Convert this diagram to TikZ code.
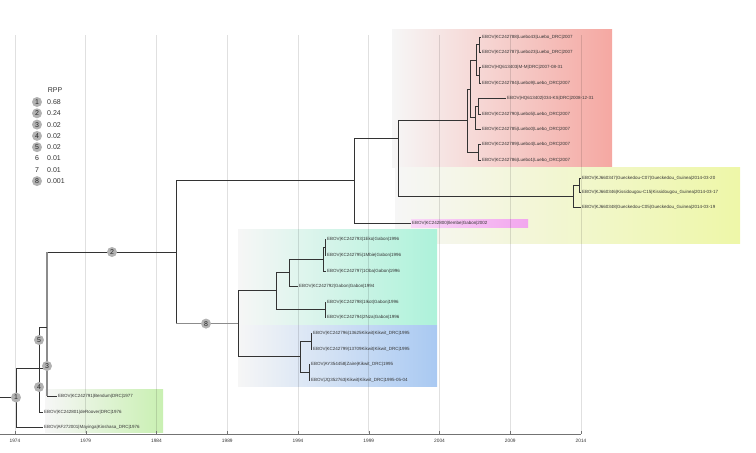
\documentclass[tikz,border=0pt]{standalone}
\usepackage{fontspec}
\setmainfont{Liberation Sans}
\newcommand\leaffont{\fontsize{4.5}{5}\selectfont}
\newcommand\rppfont{\fontsize{7}{8}\selectfont}
\newcommand\yearfont{\fontsize{4.8}{5}\selectfont}
\definecolor{redclade}{HTML}{F5A8A2}
\definecolor{yellowclade}{HTML}{EEF7A8}
\definecolor{pinkclade}{HTML}{F2A6EE}
\definecolor{cyanclade}{HTML}{ADF2DA}
\definecolor{blueclade}{HTML}{A9C9F2}
\definecolor{greenclade}{HTML}{C9F0B2}
\definecolor{fadegray}{HTML}{F6F6F6}
\tikzset{
  branch/.style = {draw = black!80, line width = 0.8pt},
  rootbranch/.style = {draw = black!45, line width = 1.4pt},
  leaf/.style = {anchor = west, inner sep = 0.8pt, font = \leaffont, text = black!80},
  rpp/.style = {circle, fill = black!30, inner sep = 0pt, minimum size = 10pt, font = \rppfont, text = black!85},
  rppval/.style = {anchor = west, inner sep = 0pt, font = \rppfont, text = black!80},
  gridline/.style = {draw = black, opacity = 0.12, line width = 0.7pt},
  year/.style = {anchor = north, inner sep = 0pt, font = \yearfont, text = black!80}
}
\begin{document}
\begin{tikzpicture}[x = 1pt, y = -1pt]
\useasboundingbox (0,0) rectangle (756,453);
% clade boxes
\fill[left color = fadegray, right color = redclade] (392,29) rectangle (612,167);
\fill[left color = fadegray, right color = yellowclade] (395,167) rectangle (740,243);
\fill[left color = pinkclade!45, right color = pinkclade] (411,219) rectangle (528,227);
\fill[left color = fadegray, right color = cyanclade] (238,229) rectangle (437,324);
\fill[left color = fadegray, right color = blueclade] (238,325) rectangle (437,386);
\fill[left color = fadegray, right color = greenclade] (45,389) rectangle (163,432);
% time grid
\draw[gridline] (15,35) -- (15,433);
\draw[gridline] (85.8,35) -- (85.8,433);
\draw[gridline] (156.5,35) -- (156.5,433);
\draw[gridline] (227.3,35) -- (227.3,433);
\draw[gridline] (298,35) -- (298,433);
\draw[gridline] (368.8,35) -- (368.8,433);
\draw[gridline] (439.5,35) -- (439.5,433);
\draw[gridline] (510.3,35) -- (510.3,433);
\draw[gridline] (581,35) -- (581,433);
% axis
\draw[draw = black!55, line width = 0.6pt] (0,434) -- (581,434);
\draw[draw = black!55, line width = 0.5pt] (15,431) -- (15,434) (85.8,431) -- (85.8,434) (156.5,431) -- (156.5,434) (227.3,431) -- (227.3,434) (298,431) -- (298,434) (368.8,431) -- (368.8,434) (439.5,431) -- (439.5,434) (510.3,431) -- (510.3,434) (581,431) -- (581,434);
\node[year] (y1974) at (15,439) {1974};
\node[year] (y1979) at (85.8,439) {1979};
\node[year] (y1984) at (156.5,439) {1984};
\node[year] (y1989) at (227.3,439) {1989};
\node[year] (y1994) at (298,439) {1994};
\node[year] (y1999) at (368.8,439) {1999};
\node[year] (y2004) at (439.5,439) {2004};
\node[year] (y2009) at (510.3,439) {2009};
\node[year] (y2014) at (581,439) {2014};
% leaves
\node[leaf] (luebo43) at (481,37) {EBOV|KC242788|Luebo43|Luebo\_DRC|2007};
\node[leaf] (luebo23) at (481,52.4) {EBOV|KC242787|Luebo23|Luebo\_DRC|2007};
\node[leaf] (mm) at (481,67.8) {EBOV|HQ613403|M-M|DRC|2007-08-31};
\node[leaf] (luebo9) at (481,83.1) {EBOV|KC242784|Luebo9|Luebo\_DRC|2007};
\node[leaf] (ks) at (506,98.5) {EBOV|HQ613402|034-KS|DRC|2008-12-31};
\node[leaf] (luebo5) at (481,113.9) {EBOV|KC242790|Luebo5|Luebo\_DRC|2007};
\node[leaf] (luebo0) at (481,129.3) {EBOV|KC242785|Luebo0|Luebo\_DRC|2007};
\node[leaf] (luebo4) at (481,144.6) {EBOV|KC242789|Luebo4|Luebo\_DRC|2007};
\node[leaf] (luebo1) at (481,160) {EBOV|KC242786|Luebo1|Luebo\_DRC|2007};
\node[leaf] (gueckC07) at (581,178) {EBOV|KJ660347|Gueckedou-C07|Gueckedou\_Guinea|2014-03-20};
\node[leaf] (kissC15) at (581,192.5) {EBOV|KJ660346|Kissidougou-C15|Kissidougou\_Guinea|2014-03-17};
\node[leaf] (gueckC05) at (581,207) {EBOV|KJ660348|Gueckedou-C05|Gueckedou\_Guinea|2014-03-19};
\node[leaf] (ilembe) at (411,223) {EBOV|KC242800|Ilembe|Gabon|2002};
\node[leaf] (eko) at (326,239) {EBOV|KC242793|1Eko|Gabon|1996};
\node[leaf] (mbie) at (326,255) {EBOV|KC242795|1Mbie|Gabon|1996};
\node[leaf] (oba) at (326,271) {EBOV|KC242797|1Oba|Gabon|1996};
\node[leaf] (gabon) at (298,286) {EBOV|KC242792|Gabon|Gabon|1994};
\node[leaf] (ikot) at (326,302) {EBOV|KC242798|1Ikot|Gabon|1996};
\node[leaf] (nza) at (326,317) {EBOV|KC242794|2Nza|Gabon|1996};
\node[leaf] (kik13625) at (312,333) {EBOV|KC242796|13625Kikwit|Kikwit\_DRC|1995};
\node[leaf] (kik13709) at (312,349) {EBOV|KC242799|13709Kikwit|Kikwit\_DRC|1995};
\node[leaf] (zaire) at (310,364) {EBOV|AY354458|Zaire|Kikwit\_DRC|1995};
\node[leaf] (kikwit) at (310,380) {EBOV|JQ352763|Kikwit|Kikwit\_DRC|1995-05-04};
\node[leaf] (bendum) at (57,396) {EBOV|KC242791|Bendum|DRC|1977};
\node[leaf] (deroover) at (43,412) {EBOV|KC242801|deRoover|DRC|1976};
\node[leaf] (mayinga) at (43,427) {EBOV|AF272001|Mayinga|Kinshasa\_DRC|1976};
% internal nodes
\coordinate (n12) at (479,44.7);
\coordinate (n34) at (479,75.4);
\coordinate (n1234) at (476,60);
\coordinate (n56) at (478,106.2);
\coordinate (n567) at (475,117.7);
\coordinate (nA) at (470,88.9);
\coordinate (n89) at (478,152.3);
\coordinate (nRed) at (467,120.6);
\coordinate (nG12) at (579,185);
\coordinate (nG) at (573,196);
\coordinate (n398) at (398,138);
\coordinate (n354) at (354,180.5);
\coordinate (nEM) at (325,247);
\coordinate (nEMO) at (323,259);
\coordinate (n289) at (289,272);
\coordinate (nIN) at (325,309.5);
\coordinate (n276) at (276,290.8);
\coordinate (nK12) at (311,341);
\coordinate (nK34) at (309,372);
\coordinate (nBlue) at (300,356.5);
\coordinate (n238) at (238,323.6);
\coordinate (n176) at (176,252);
\coordinate (n3) at (47,368);
\coordinate (j5) at (47,327);
\coordinate (n4) at (39,369.5);
\coordinate (root) at (16,397.5);
\coordinate (rootstub) at (0,397.5);
% branches
\draw[branch] (n12) |- (luebo43.west) (n12) |- (luebo23.west);
\draw[branch] (n34) |- (mm.west) (n34) |- (luebo9.west);
\draw[branch] (n1234) |- (n12) (n1234) |- (n34);
\draw[branch] (n56) |- (ks.west) (n56) |- (luebo5.west);
\draw[branch] (n567) |- (n56) (n567) |- (luebo0.west);
\draw[branch] (nA) |- (n1234) (nA) |- (n567);
\draw[branch] (n89) |- (luebo4.west) (n89) |- (luebo1.west);
\draw[branch] (nRed) |- (nA) (nRed) |- (n89);
\draw[branch] (nG12) |- (gueckC07.west) (nG12) |- (kissC15.west);
\draw[branch] (nG) |- (nG12) (nG) |- (gueckC05.west);
\draw[branch] (n398) |- (nRed) (n398) |- (nG);
\draw[branch] (n354) |- (n398) (n354) |- (ilembe.west);
\draw[branch] (nEM) |- (eko.west) (nEM) |- (mbie.west);
\draw[branch] (nEMO) |- (nEM) (nEMO) |- (oba.west);
\draw[branch] (n289) |- (nEMO) (n289) |- (gabon.west);
\draw[branch] (nIN) |- (ikot.west) (nIN) |- (nza.west);
\draw[branch] (n276) |- (n289) (n276) |- (nIN);
\draw[branch] (nK12) |- (kik13625.west) (nK12) |- (kik13709.west);
\draw[branch] (nK34) |- (zaire.west) (nK34) |- (kikwit.west);
\draw[branch] (nBlue) |- (nK12) (nBlue) |- (nK34);
\draw[branch] (n238) |- (n276) (n238) |- (nBlue);
\draw[branch] (n176) |- (n354);
\draw[branch] (n176) -- (n176 |- n238);
\draw[rootbranch] (n176 |- n238) -- (n238);
\draw[branch] (n3 |- n176) -- (n176);
\draw[rootbranch] (n3 |- n176) -- (n3 |- bendum);
\draw[branch] (n3 |- bendum) -- (bendum.west);
\draw[branch] (root) |- (n3);
\draw[branch] (n4) |- (j5) (n4) |- (deroover.west);
\draw[branch] (root) |- (mayinga.west);
\draw[branch] (rootstub) -- (root);
% root position labels
\node[rpp] (c1) at (root) {1};
\node[rpp] (c2) at (112,252) {2};
\node[rpp] (c3) at (47,366) {3};
\node[rpp] (c4) at (39,387) {4};
\node[rpp] (c5) at (39,340) {5};
\node[rpp] (c8) at (206,323.6) {8};
% legend
\node[font = \rppfont, text = black!80] (rpphead) at (55,90) {RPP};
\node[rpp] (k1) at (37,102) {1};
\node[rppval] (v1) at (47,102) {0.68};
\node[rpp] (k2) at (37,113.3) {2};
\node[rppval] (v2) at (47,113.3) {0.24};
\node[rpp] (k3) at (37,124.6) {3};
\node[rppval] (v3) at (47,124.6) {0.02};
\node[rpp] (k4) at (37,135.9) {4};
\node[rppval] (v4) at (47,135.9) {0.02};
\node[rpp] (k5) at (37,147.2) {5};
\node[rppval] (v5) at (47,147.2) {0.02};
\node[rpp, fill = none] (k6) at (37,158.5) {6};
\node[rppval] (v6) at (47,158.5) {0.01};
\node[rpp, fill = none] (k7) at (37,169.8) {7};
\node[rppval] (v7) at (47,169.8) {0.01};
\node[rpp] (k8) at (37,181.1) {8};
\node[rppval] (v8) at (47,181.1) {0.001};
\end{tikzpicture}
\end{document}
